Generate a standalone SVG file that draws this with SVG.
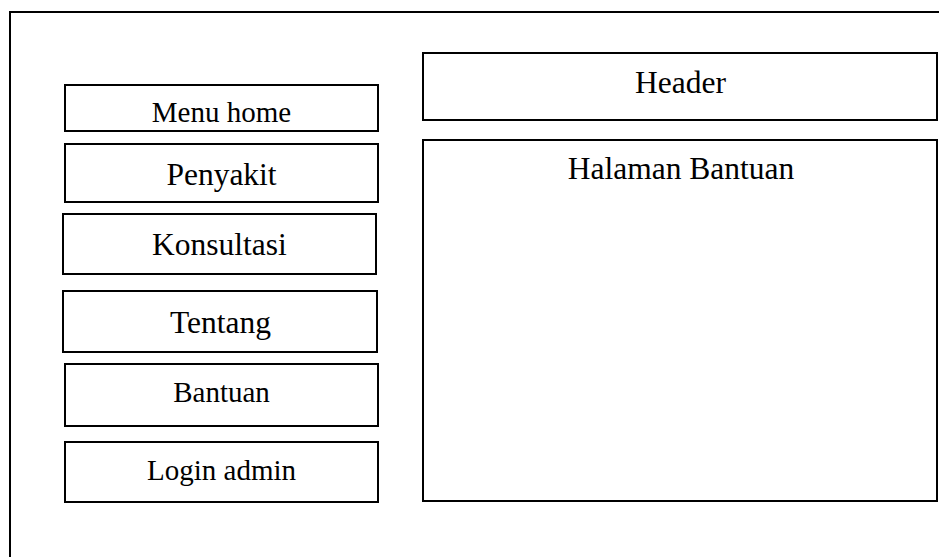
<svg xmlns="http://www.w3.org/2000/svg" width="939" height="557" viewBox="0 0 939 557">
<style>
.box{fill:#fff;stroke:#000;stroke-width:2}
.frame{fill:none;stroke:#000;stroke-width:2}
.t{font-family:"Liberation Serif","Times New Roman",serif;fill:#000;text-anchor:middle}
.s{font-size:29px}
.l{font-size:31.5px}
</style>
<rect width="939" height="557" fill="#fff"/>
<g id="frame"><path class="frame" d="M10,560 V12 H945"/></g>
<g id="menu-home"><rect class="box" x="65" y="85" width="313" height="46"/><text class="t s" x="221.5" y="122">Menu home</text></g>
<g id="penyakit"><rect class="box" x="65" y="144" width="313" height="58"/><text class="t l" x="221.5" y="185">Penyakit</text></g>
<g id="konsultasi"><rect class="box" x="63" y="214" width="313" height="60"/><text class="t l" x="219.5" y="255">Konsultasi</text></g>
<g id="tentang"><rect class="box" x="63" y="291" width="314" height="61"/><text class="t l" x="220.5" y="333">Tentang</text></g>
<g id="bantuan"><rect class="box" x="65" y="364" width="313" height="62"/><text class="t s" x="221.5" y="402">Bantuan</text></g>
<g id="login-admin"><rect class="box" x="65" y="442" width="313" height="60"/><text class="t s" x="221.5" y="480">Login admin</text></g>
<g id="header"><rect class="box" x="423" y="53" width="514" height="67"/><text class="t l" x="680.5" y="93">Header</text></g>
<g id="halaman-bantuan"><rect class="box" x="423" y="140" width="514" height="361"/><text class="t l" x="681" y="179">Halaman Bantuan</text></g>
<g id="connectors"></g>
</svg>
